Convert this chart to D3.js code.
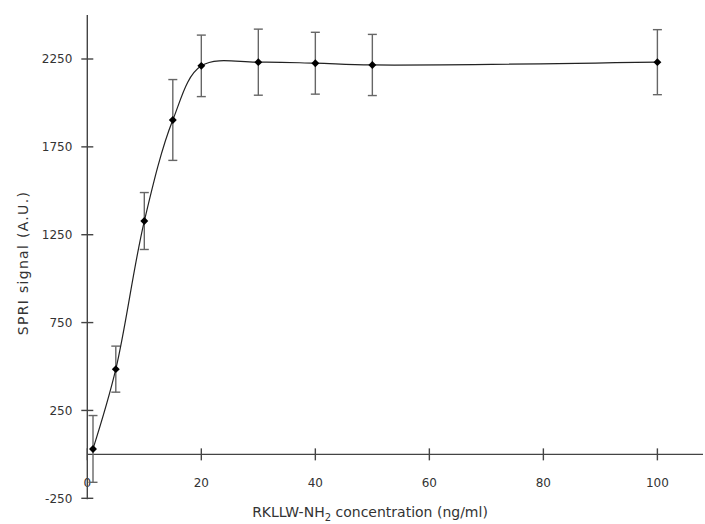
<!DOCTYPE html>
<html>
<head>
<meta charset="utf-8">
<script src="https://cdn.jsdelivr.net/npm/d3@7"></script>
<style>
  body { margin: 0; background: #fff; }
  svg text { font-family: "DejaVu Sans", sans-serif; fill: #333; }
</style>
</head>
<body>
<svg width="705" height="524"></svg>
<script>
// concentration (ng/ml), SPRI signal, error
var conc = [1, 5, 10, 15, 20, 30, 40, 50, 100];
var signal = [31, 485, 1328, 1903, 2211, 2232, 2226, 2216, 2232];
var errs = [190, 131, 162, 230, 175, 188, 176, 174, 185];
var xTicks = [0, 20, 40, 60, 80, 100];
var yTicks = [-250, 250, 750, 1250, 1750, 2250];

var svg = d3.select("svg");

var x = d3.scaleLinear().domain([0, 108]).range([87.3, 703]),
    y = d3.scaleLinear().domain([-250, 2250]).range([498.3, 59]);

var data = conc.map(function(c, i) { return {x: c, y: signal[i], e: errs[i]}; });

// axes
var axisColor = "#444";

var xa = svg.append("g").attr("transform", "translate(0," + y(0) + ")");
xa.append("line")
    .attr("x1", x(0)).attr("x2", x(108))
    .attr("stroke", axisColor).attr("stroke-width", 1.4);
xa.selectAll(".tick").data(xTicks).enter().append("line")
    .attr("x1", function(d) { return x(d); }).attr("x2", function(d) { return x(d); })
    .attr("y1", -6).attr("y2", 6)
    .attr("stroke", axisColor).attr("stroke-width", 1.4);
xa.selectAll(".lbl").data(xTicks).enter().append("text")
    .attr("x", function(d) { return x(d); })
    .attr("y", 28)
    .attr("dy", "0.35em")
    .attr("text-anchor", "middle")
    .style("font-size", "12px")
    .text(function(d) { return d; });

var ya = svg.append("g").attr("transform", "translate(" + x(0) + ",0)");
ya.append("line")
    .attr("y1", 15).attr("y2", y(-250) + 1)
    .attr("stroke", axisColor).attr("stroke-width", 1.4);
ya.selectAll(".tick").data(yTicks).enter().append("line")
    .attr("y1", function(d) { return y(d); }).attr("y2", function(d) { return y(d); })
    .attr("x1", -6).attr("x2", 6)
    .attr("stroke", axisColor).attr("stroke-width", 1.4);
ya.selectAll(".lbl").data(yTicks).enter().append("text")
    .attr("x", -15)
    .attr("y", function(d) { return y(d); })
    .attr("dy", "0.35em")
    .attr("text-anchor", "end")
    .style("font-size", "12px")
    .text(function(d) { return d; });

// titles
svg.append("text")
    .attr("transform", "translate(23,263) rotate(-90)")
    .attr("dy", "0.35em")
    .attr("text-anchor", "middle")
    .style("font-size", "14px")
    .style("letter-spacing", "1.3px")
    .text("SPRI signal (A.U.)");

var xt = svg.append("text")
    .attr("x", 370).attr("y", 512)
    .attr("dy", "0.35em")
    .attr("text-anchor", "middle")
    .style("font-size", "14px");
xt.append("tspan").text("RKLLW-NH");
xt.append("tspan").attr("dy", "4").style("font-size", "10px").text("2");
xt.append("tspan").attr("dy", "-4").text(" concentration (ng/ml)");

// error bars
var eb = svg.selectAll(".err").data(data).enter().append("g")
    .attr("stroke", "#666").attr("stroke-width", 1.4);
eb.append("line")
    .attr("x1", function(d) { return x(d.x); }).attr("x2", function(d) { return x(d.x); })
    .attr("y1", function(d) { return y(d.y + d.e); }).attr("y2", function(d) { return y(d.y - d.e); });
eb.append("line")
    .attr("x1", function(d) { return x(d.x) - 4.5; }).attr("x2", function(d) { return x(d.x) + 4.5; })
    .attr("y1", function(d) { return y(d.y + d.e); }).attr("y2", function(d) { return y(d.y + d.e); });
eb.append("line")
    .attr("x1", function(d) { return x(d.x) - 4.5; }).attr("x2", function(d) { return x(d.x) + 4.5; })
    .attr("y1", function(d) { return y(d.y - d.e); }).attr("y2", function(d) { return y(d.y - d.e); });

// fitted curve
var line = d3.line()
    .curve(d3.curveCatmullRom.alpha(0.5))
    .x(function(d) { return x(d.x); })
    .y(function(d) { return y(d.y); });

svg.append("path")
    .datum(data)
    .attr("d", line)
    .attr("fill", "none")
    .attr("stroke", "#222")
    .attr("stroke-width", 1.2);

// markers
svg.selectAll(".pt").data(data).enter().append("path")
    .attr("transform", function(d) { return "translate(" + x(d.x) + "," + y(d.y) + ")"; })
    .attr("d", d3.symbol().type(d3.symbolDiamond2).size(40))
    .attr("fill", "#000");
</script>
</body>
</html>
